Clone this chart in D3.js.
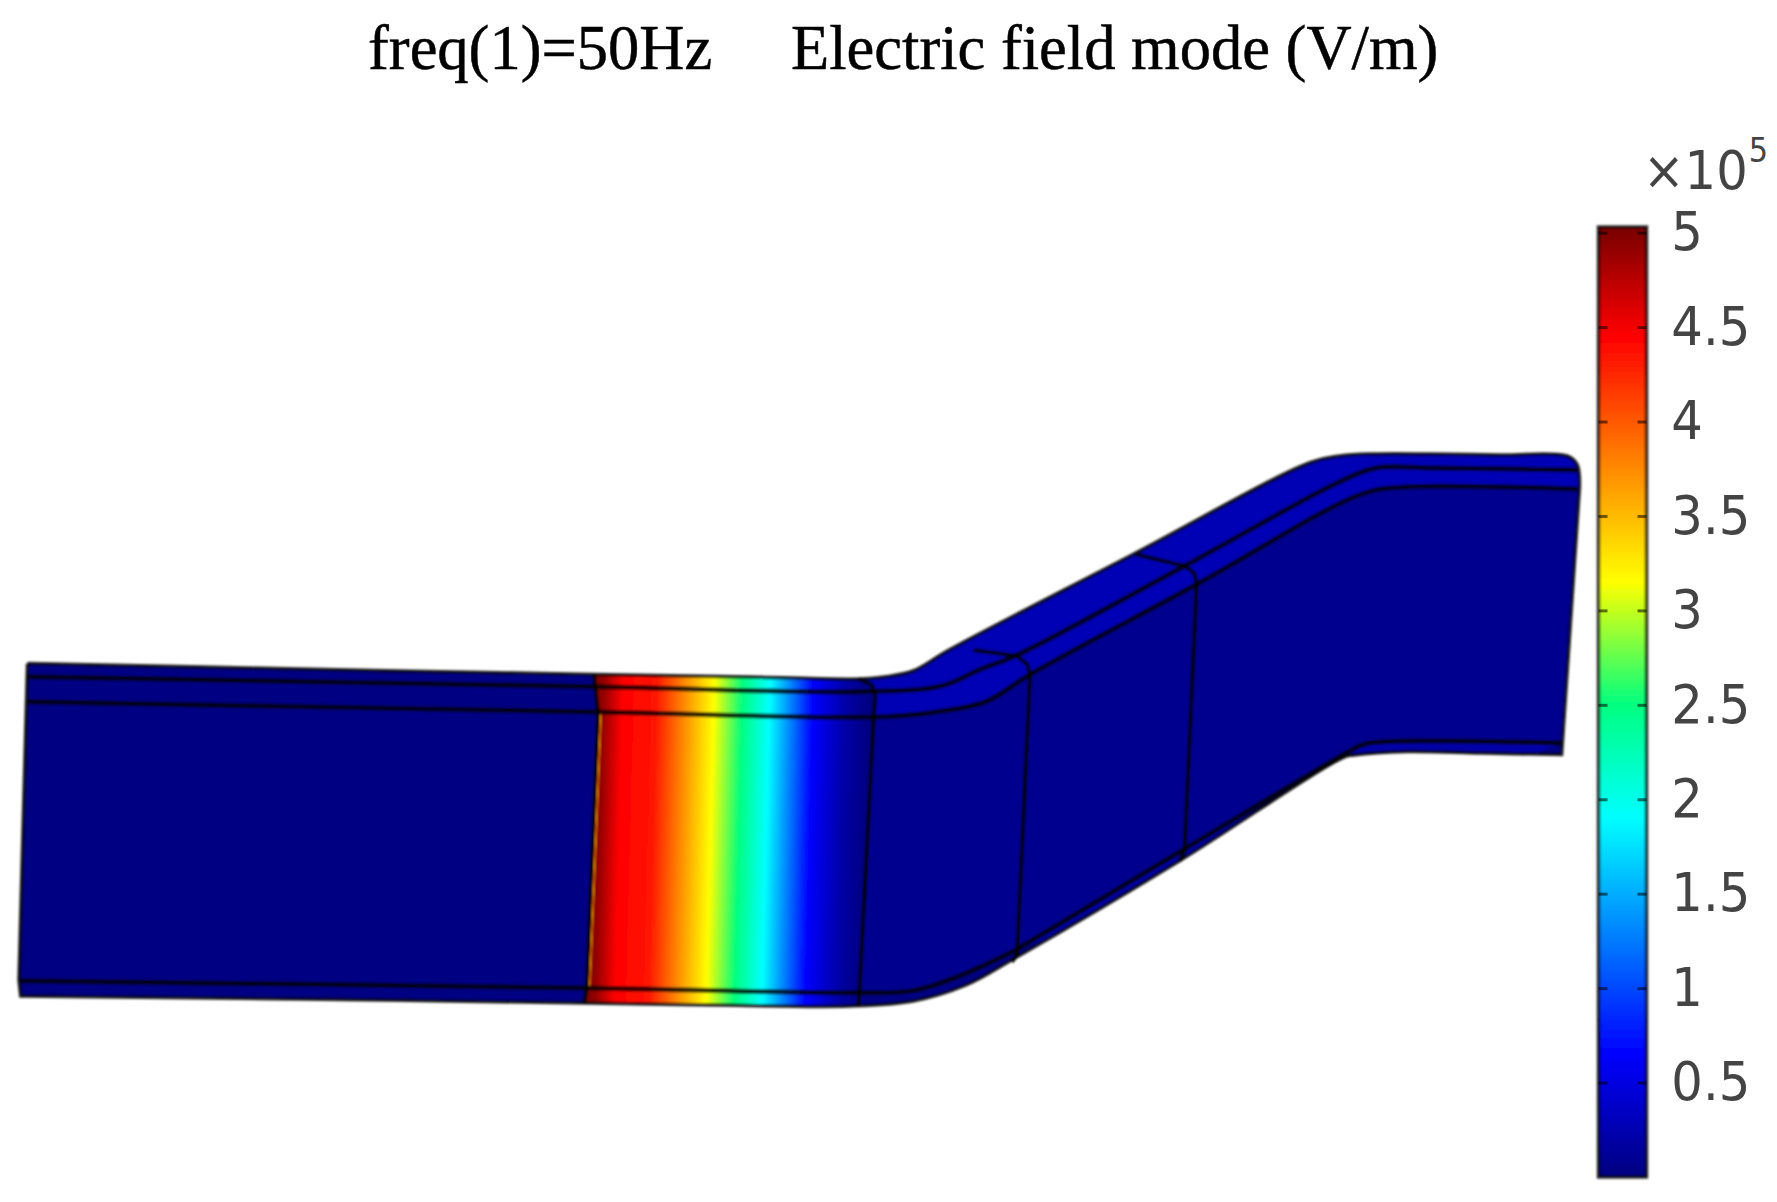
<!DOCTYPE html>
<html>
<head>
<meta charset="utf-8">
<script src="https://d3js.org/d3.v7.min.js"></script>
<style>
  html, body { margin: 0; padding: 0; background: #fff; }
  svg { display: block; }
</style>
</head>
<body>
<script>
var width = 1777,
    height = 1202;

// jet colour map, value as a fraction of the colour range
var jetStops = [0, 0.13, 0.38, 0.5, 0.63, 0.89, 1],
    jetColors = ["#00007f", "#0000ff", "#00ffff", "#00ff80", "#ffff00", "#ff0000", "#7f0000"];

// colour bar
var barDomain = [0, 5.03],
    barTicks = [0.5, 1, 1.5, 2, 2.5, 3, 3.5, 4, 4.5, 5];

// field across the hot section, 0 = left cut, 1 = right cut (x1e5 V/m)
var bandPos = [0, 0.03, 0.1, 0.22, 0.325, 0.435, 0.54, 0.64, 0.8, 0.92, 1],
    bandVal = [5.0, 4.9, 4.45, 4.35, 3.75, 3.15, 2.5, 1.9, 0.65, 0.2, 0.02];

// part outline and edges, in model units (cm along the sheet)
// a repeated point keeps a sharp corner when the curve goes through it
var outline = [[2.75, 66.35], [2.75, 66.35], [30, 66.9], [59.4, 67.45], [75, 67.7], [86.1, 67.9], [88.4, 67.7], [91.3, 67.1], [94.9, 65.0], [113, 55.6], [131.05, 46.25], [134, 45.6], [137.35, 45.4], [143, 45.4], [150, 45.5], [156.7, 45.6], [157.7, 46.44], [157.95, 48.7], [157.95, 48.7], [156.16, 75.45], [156.16, 75.45], [148, 75.3], [140.7, 75.15], [135.4, 75.5], [134.4, 75.7], [118, 86.05], [101.5, 95.8], [96.6, 98.5], [91.3, 100.1], [85, 100.6], [72, 100.5], [58.55, 100.3], [30, 99.9], [2.07, 99.6], [2.07, 99.6], [1.9, 98], [1.9, 98], [2.75, 66.35]];

var crease1 = [[2.75, 67.67], [59.7, 68.67], [86.1, 69.17], [94.2, 68.57], [98.1, 66.9], [101.5, 65.6], [118.45, 56.6], [133.96, 48.17], [137.6, 46.8], [143.2, 46.8], [157.7, 47.0]];
var crease2 = [[2.75, 70.17], [59.7, 71.2], [87.25, 71.7], [93.24, 71.24], [98.57, 70.17], [102.9, 67.5], [119.9, 58.3], [135.9, 49.5], [139.8, 48.74], [157.7, 48.9]];
var lowerEdge = [[2.07, 98.07], [58.55, 98.8], [86.1, 99.27], [91.3, 99.06], [95.66, 97.7], [101.5, 95.05]];
var lowerEdgeRight = [[101.5, 95.05], [118.45, 84.9], [134.9, 75.15], [136.5, 74.4], [143.2, 74.1], [156.16, 74.3]];

var cuts = [
  [[59.4, 67.45], [59.8, 71.3], [58.67, 98.8], [58.45, 100.3]],
  [[85.87, 67.9], [87.2, 68.5], [87.54, 69.6], [87.37, 71.67], [85.93, 99.3], [85.82, 100.6]],
  [[97.36, 65], [101.7, 65.6], [102.7, 66.4], [103, 67.5], [101.7, 95.4], [101.2, 96.2]],
  [[113.6, 55.44], [118.45, 56.6], [119.4, 57.3], [119.66, 58.3], [118.45, 85.1], [117.96, 86.05]]
];

var svg = d3.select("body").append("svg")
    .attr("width", width)
    .attr("height", height);

var defs = svg.append("defs");
defs.append("filter").attr("id", "soft")
    .append("feGaussianBlur").attr("stdDeviation", 1);

var x = d3.scaleLinear().domain([0, 177.7]).range([0, width]),
    y = d3.scaleLinear().domain([0, 120.2]).range([0, height]);

var line = d3.line().x(function(d) { return x(d[0]); }).y(function(d) { return y(d[1]); });
var smooth = d3.line().curve(d3.curveCatmullRom.alpha(0.5))
    .x(function(d) { return x(d[0]); }).y(function(d) { return y(d[1]); });

var jet = d3.scaleLinear()
    .domain(jetStops.map(function(s) { return s * 5; }))
    .range(jetColors)
    .clamp(true);

/* Title */
var title = svg.append("g")
    .attr("font-family", "Liberation Serif")
    .attr("font-size", 62.5)
    .attr("fill", "#000")
    .attr("stroke", "#000")
    .attr("stroke-width", 0.5);
title.append("text").attr("x", x(36.8)).attr("y", y(6.9)).text("freq(1)=50Hz");
title.append("text").attr("x", x(79.1)).attr("y", y(6.9)).text("Electric field mode (V/m)");

/* Part */
var part = svg.append("g").attr("filter", "url(#soft)");

defs.append("clipPath").attr("id", "part-clip")
    .append("path").attr("d", smooth(outline));

var band = defs.append("linearGradient").attr("id", "band-grad")
    .attr("gradientUnits", "userSpaceOnUse")
    .attr("x1", x(59.2)).attr("y1", y(83.5))
    .attr("x2", x(86.4)).attr("y2", y(84.2));
band.selectAll("stop").data(bandVal).enter().append("stop")
    .attr("offset", function(d, i) { return bandPos[i]; })
    .attr("stop-color", function(d) { return jet(d); });

var faces = part.append("g").attr("clip-path", "url(#part-clip)");

faces.append("path").attr("d", smooth(outline)).attr("fill", "#000082");

// brighter stripe faces past the first bend, and the right-hand face
faces.append("path").attr("d", line(outline.slice(5, 18).concat(crease2.slice(2).reverse())))
    .attr("fill", "#0000b4");
faces.append("path").attr("d", line(crease2.slice(2).concat(lowerEdgeRight.slice().reverse(), lowerEdge.slice(2).reverse())))
    .attr("fill", "#00008e");
faces.append("path").attr("d", line(lowerEdgeRight.concat(outline.slice(19, 27).reverse())))
    .attr("fill", "#0000a8");

// hot section, between the first two cuts
faces.append("path")
    .attr("d", line(cuts[0].concat(cuts[1].slice().reverse())))
    .attr("fill", "url(#band-grad)");

// thin orange fringe on the left cut
part.append("path").attr("d", line(cuts[0].slice(1, 3).map(function(d) { return [d[0] + 0.28, d[1]]; })))
    .attr("fill", "none").attr("stroke", "#ffa000").attr("stroke-width", 1.1);

var edges = part.append("g").attr("fill", "none").attr("stroke", "#000");

edges.selectAll("path.crease")
    .data([crease1, crease2, lowerEdge, lowerEdgeRight])
    .enter().append("path")
    .attr("class", "crease")
    .attr("d", smooth)
    .attr("stroke-width", 5).attr("stroke-opacity", 0.8);

edges.selectAll("path.cut")
    .data(cuts).enter().append("path")
    .attr("class", "cut")
    .attr("d", line)
    .attr("stroke-linejoin", "round")
    .attr("stroke-width", 4).attr("stroke-opacity", 0.9);

edges.append("path").attr("d", smooth(outline))
    .attr("stroke-width", 3.5).attr("stroke-opacity", 0.85);

/* Colour bar */
var barX = 1598.5,
    barW = 48,
    barScale = d3.scaleLinear().domain(barDomain).range([1177, 227]);

var grad = defs.append("linearGradient").attr("id", "bar-grad")
    .attr("x1", 0).attr("y1", 1).attr("x2", 0).attr("y2", 0);
grad.selectAll("stop").data(jetStops).enter().append("stop")
    .attr("offset", function(d) { return d * 5 / barDomain[1]; })
    .attr("stop-color", function(d, i) { return jetColors[i]; });

var bar = svg.append("g");
bar.append("rect")
    .attr("x", barX).attr("y", barScale(barDomain[1]))
    .attr("width", barW).attr("height", barScale(0) - barScale(barDomain[1]))
    .attr("fill", "url(#bar-grad)")
    .attr("stroke", "#000").attr("stroke-opacity", 0.8).attr("stroke-width", 3.5)
    .attr("filter", "url(#soft)");

var rightAxis = d3.axisRight(barScale).tickValues(barTicks)
    .tickFormat(d3.format("~g"))
    .tickSizeInner(-9).tickSizeOuter(0).tickPadding(27);
var leftAxis = d3.axisLeft(barScale).tickValues(barTicks)
    .tickFormat("").tickSizeInner(-9).tickSizeOuter(0);

var axisR = bar.append("g").attr("transform", "translate(" + (barX + barW) + ",0)").call(rightAxis);
var axisL = bar.append("g").attr("transform", "translate(" + barX + ",0)").call(leftAxis);

[axisR, axisL].forEach(function(a) {
  a.select(".domain").remove();
  a.selectAll("line").attr("stroke", "#000").attr("stroke-opacity", 0.55).attr("stroke-width", 3);
});
axisR.selectAll("text")
    .attr("font-family", "DejaVu Sans")
    .attr("font-size", 54)
    .attr("transform", "scale(0.92,1)")
    .attr("fill", "#444");

var mult = bar.append("text")
    .attr("transform", "translate(1643,189) scale(0.92,1)")
    .attr("font-family", "DejaVu Sans")
    .attr("font-size", 54)
    .attr("fill", "#444");
mult.append("tspan").text("\u00d710");
mult.append("tspan").attr("font-size", 33).attr("dy", -27).attr("dx", 1).text("5");
</script>
</body>
</html>
